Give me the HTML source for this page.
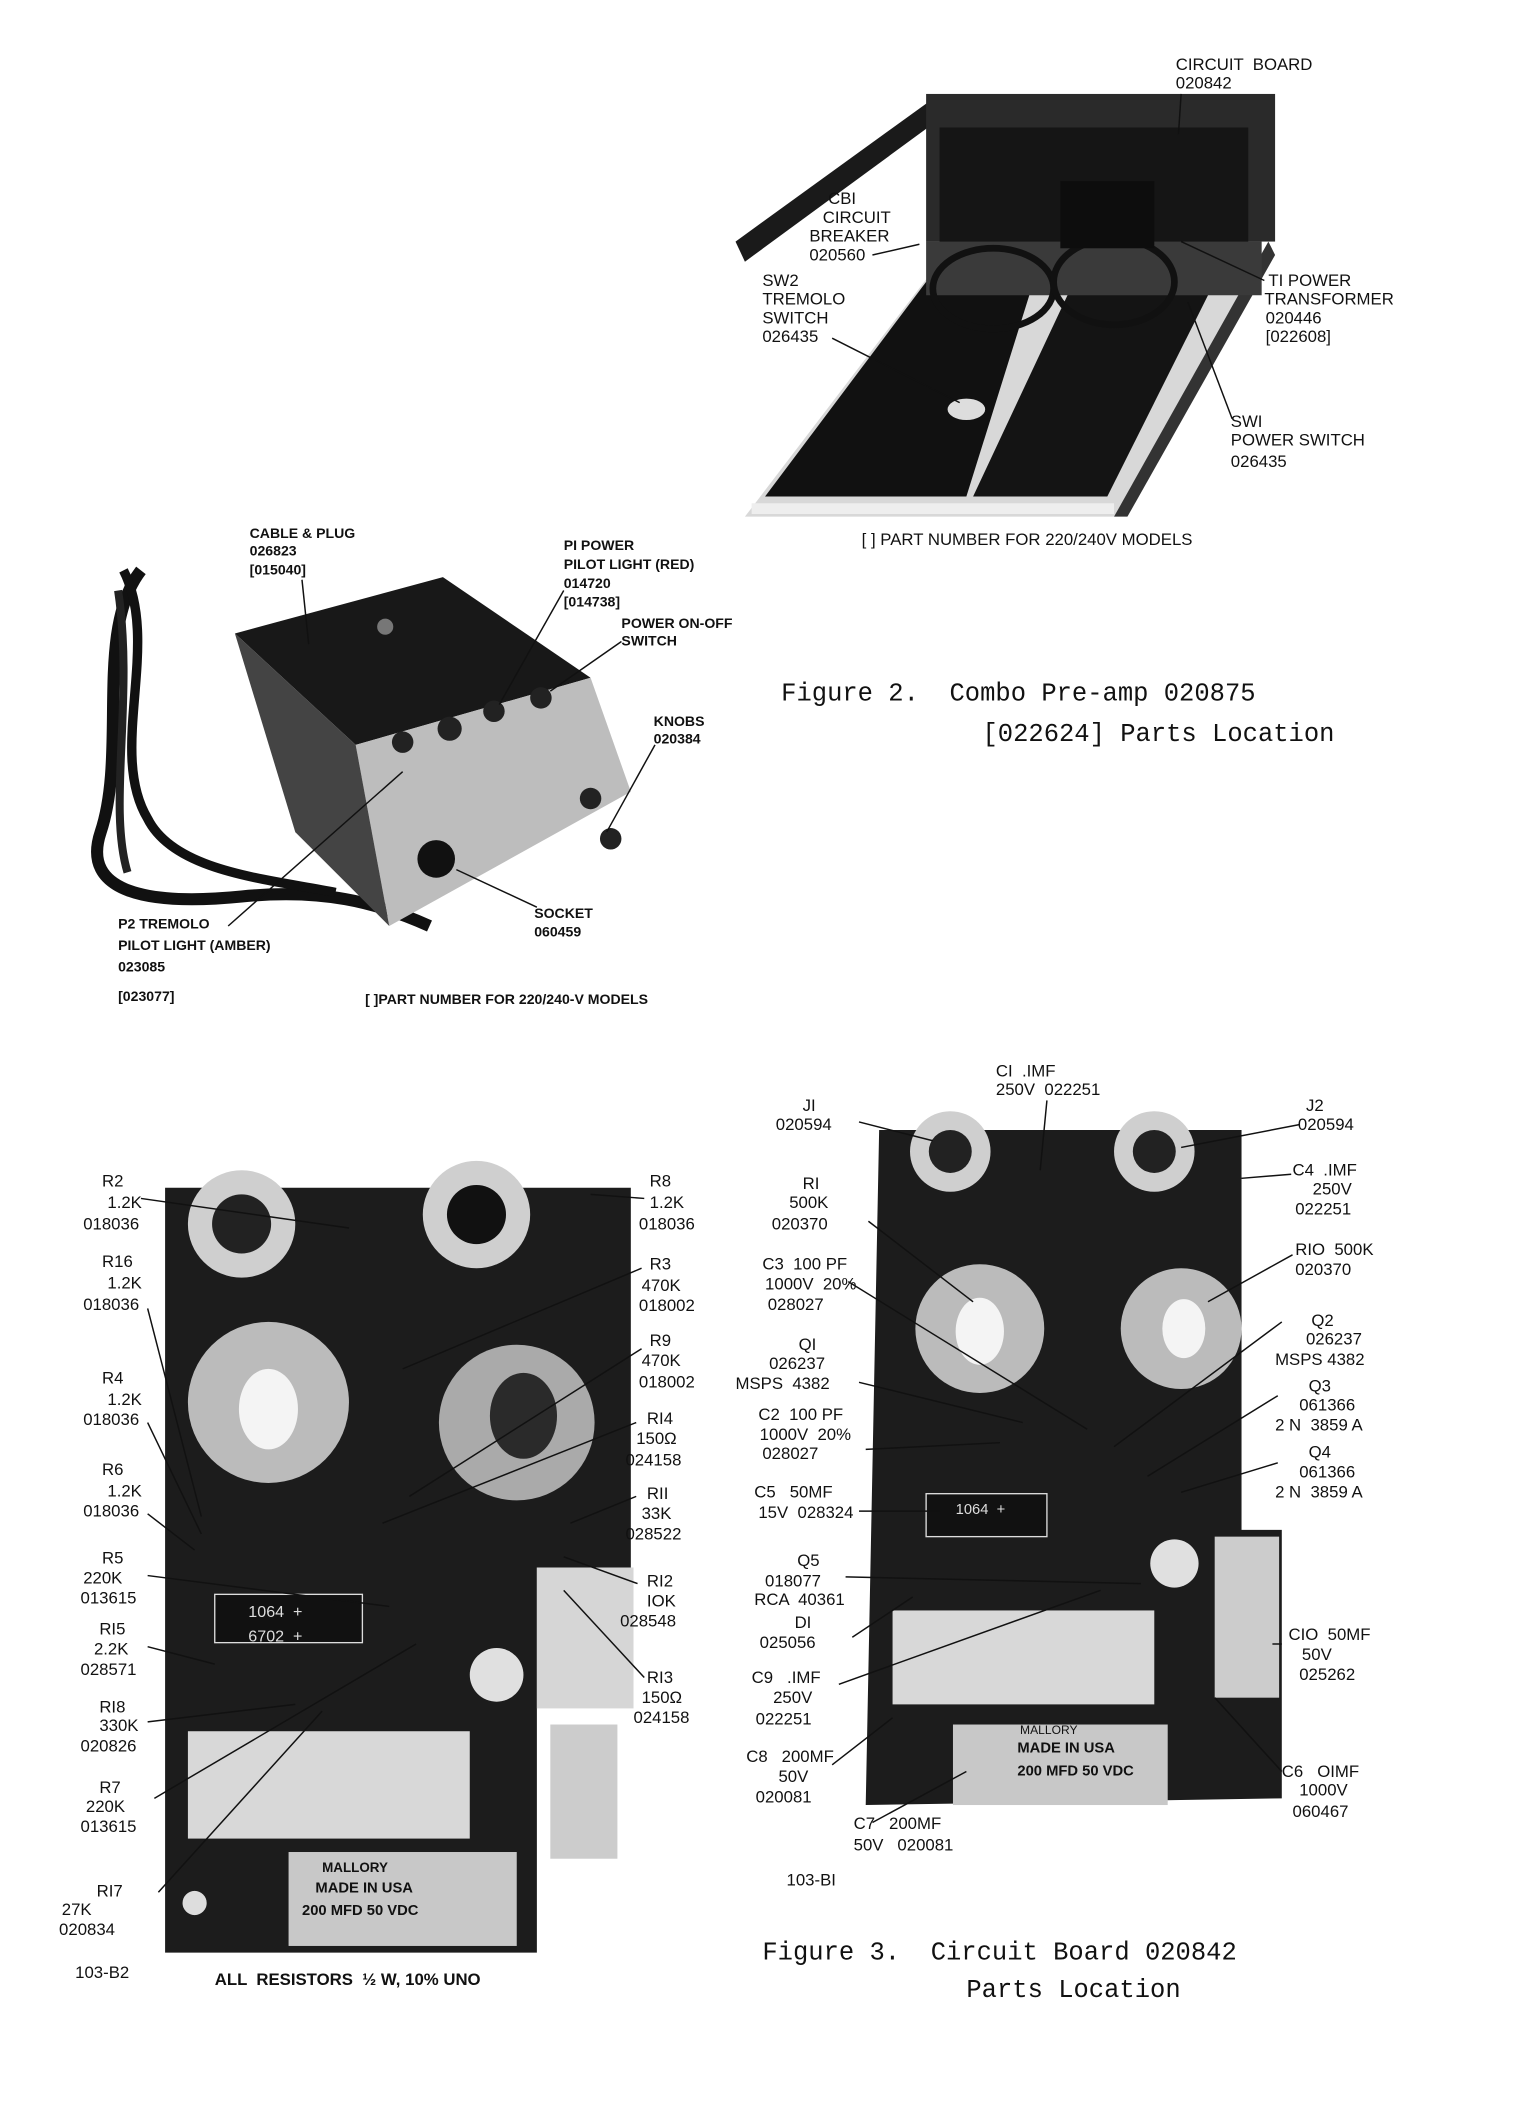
<!DOCTYPE html>
<html><head><meta charset="utf-8"><style>
html,body{margin:0;padding:0;background:#fff;}
svg{display:block}
text{font-family:"Liberation Sans",sans-serif;fill:#111;white-space:pre;}
.l{font-size:12.5px;}
.b{font-size:10.5px;font-weight:bold;}
.m{font-family:"Liberation Mono",monospace;font-size:19px;}
line.c{stroke:#111;stroke-width:1.1}
</style></head><body>
<svg width="1514" height="2107" viewBox="0 0 1128 1570" preserveAspectRatio="none">
<!-- TOP PHOTO -->
<g>
<polygon points="548,180 700,70 705,85 555,195" fill="#1a1a1a"/>
<rect x="690" y="70" width="260" height="110" fill="#2a2a2a"/>
<rect x="700" y="95" width="230" height="105" fill="#151515"/>
<polygon points="555,385 830,385 945,195 700,195" fill="#d8d8d8"/>
<polygon points="570,370 720,370 770,210 690,210" fill="#111"/>
<polygon points="725,370 825,370 905,210 800,210" fill="#141414"/>
<polygon points="830,385 840,385 950,190 945,180" fill="#333"/>
<rect x="690" y="180" width="250" height="40" fill="#3a3a3a"/>
<ellipse cx="740" cy="215" rx="45" ry="30" fill="none" stroke="#111" stroke-width="5"/>
<ellipse cx="830" cy="210" rx="45" ry="32" fill="none" stroke="#111" stroke-width="5"/>
<rect x="790" y="135" width="70" height="50" fill="#0d0d0d"/>
<ellipse cx="720" cy="305" rx="14" ry="8" fill="#ddd"/>
<rect x="560" y="375" width="270" height="8" fill="#eee"/>
</g>
<text class="l" x="876" y="52">CIRCUIT  BOARD</text>
<text class="l" x="876" y="66">020842</text>
<line class="c" x1="880" y1="70" x2="878" y2="100"/>
<text class="l" x="617" y="152">CBI</text>
<text class="l" x="613" y="166">CIRCUIT</text>
<text class="l" x="603" y="180">BREAKER</text>
<text class="l" x="603" y="194">020560</text>
<line class="c" x1="650" y1="190" x2="685" y2="182"/>
<text class="l" x="568" y="213">SW2</text>
<text class="l" x="568" y="227">TREMOLO</text>
<text class="l" x="568" y="241">SWITCH</text>
<text class="l" x="568" y="255">026435</text>
<line class="c" x1="620" y1="252" x2="715" y2="300"/>
<text class="l" x="945" y="213">TI POWER</text>
<text class="l" x="942" y="227">TRANSFORMER</text>
<text class="l" x="943" y="241">020446</text>
<text class="l" x="943" y="255">[022608]</text>
<line class="c" x1="942" y1="209" x2="880" y2="180"/>
<text class="l" x="917" y="318">SWI</text>
<text class="l" x="917" y="332">POWER SWITCH</text>
<text class="l" x="917" y="348">026435</text>
<line class="c" x1="918" y1="312" x2="885" y2="225"/>
<text class="l" x="642" y="406">[ ] PART NUMBER FOR 220/240V MODELS</text>

<!-- MIDDLE PHOTO -->
<g>
<path d="M105,425 C70,470 95,560 75,620 C60,665 110,675 180,668 C240,662 280,672 320,690" fill="none" stroke="#111" stroke-width="9"/>
<path d="M92,425 C120,480 80,560 110,610 C130,650 200,655 250,665" fill="none" stroke="#111" stroke-width="7"/>
<path d="M88,440 C100,520 80,600 95,650" fill="none" stroke="#222" stroke-width="6"/>
<polygon points="175,472 330,430 440,505 265,555" fill="#181818"/>
<polygon points="265,555 440,505 470,590 290,690" fill="#bdbdbd"/>
<polygon points="175,472 265,555 290,690 220,620" fill="#444"/>
<circle cx="300" cy="553" r="8" fill="#222"/>
<circle cx="335" cy="543" r="9" fill="#222"/>
<circle cx="368" cy="530" r="8" fill="#222"/>
<circle cx="403" cy="520" r="8" fill="#222"/>
<circle cx="440" cy="595" r="8" fill="#222"/>
<circle cx="455" cy="625" r="8" fill="#222"/>
<circle cx="325" cy="640" r="14" fill="#111"/>
<circle cx="287" cy="467" r="6" fill="#777"/>
</g>
<text class="b" x="186" y="401">CABLE &amp; PLUG</text>
<text class="b" x="186" y="414">026823</text>
<text class="b" x="186" y="428">[015040]</text>
<line class="c" x1="225" y1="432" x2="230" y2="480"/>
<text class="b" x="420" y="410">PI POWER</text>
<text class="b" x="420" y="424">PILOT LIGHT (RED)</text>
<text class="b" x="420" y="438">014720</text>
<text class="b" x="420" y="452">[014738]</text>
<line class="c" x1="420" y1="440" x2="372" y2="525"/>
<text class="b" x="463" y="468">POWER ON-OFF</text>
<text class="b" x="463" y="481">SWITCH</text>
<line class="c" x1="463" y1="478" x2="410" y2="515"/>
<text class="b" x="487" y="541">KNOBS</text>
<text class="b" x="487" y="554">020384</text>
<line class="c" x1="488" y1="555" x2="452" y2="620"/>
<text class="b" x="398" y="684">SOCKET</text>
<text class="b" x="398" y="698">060459</text>
<line class="c" x1="400" y1="676" x2="340" y2="648"/>
<text class="b" x="88" y="692">P2 TREMOLO</text>
<text class="b" x="88" y="708">PILOT LIGHT (AMBER)</text>
<text class="b" x="88" y="724">023085</text>
<text class="b" x="88" y="746">[023077]</text>
<line class="c" x1="170" y1="690" x2="300" y2="575"/>
<text class="b" x="272" y="748">[ ]PART NUMBER FOR 220/240-V MODELS</text>

<text class="m" x="582" y="522">Figure 2.  Combo Pre-amp 020875</text>
<text class="m" x="732" y="552">[022624] Parts Location</text>

<!-- BOTTOM LEFT BOARD -->
<g>
<path d="M123,885 L470,885 L470,1168 L400,1168 L400,1455 L123,1455 Z" fill="#1c1c1c"/>
<rect x="400" y="1168" width="72" height="105" fill="#d6d6d6"/>
<circle cx="180" cy="912" r="40" fill="#cfcfcf"/><circle cx="180" cy="912" r="22" fill="#222"/>
<circle cx="355" cy="905" r="40" fill="#cfcfcf"/><circle cx="355" cy="905" r="22" fill="#111"/>
<circle cx="200" cy="1045" r="60" fill="#bbb"/><ellipse cx="200" cy="1050" rx="22" ry="30" fill="#f4f4f4"/>
<circle cx="385" cy="1060" r="58" fill="#aaa"/><ellipse cx="390" cy="1055" rx="25" ry="32" fill="#2a2a2a"/>
<rect x="160" y="1188" width="110" height="36" fill="#111" stroke="#ddd"/>
<text x="185" y="1205" style="font-size:12px;fill:#ddd">1064  +</text>
<text x="185" y="1223" style="font-size:12px;fill:#ddd">6702  +</text>
<rect x="140" y="1290" width="210" height="80" fill="#d8d8d8"/>
<rect x="215" y="1380" width="170" height="70" fill="#c8c8c8"/>
<text x="240" y="1395" style="font-size:10px;font-weight:bold">MALLORY</text>
<text x="235" y="1410" style="font-size:11px;font-weight:bold">MADE IN USA</text>
<text x="225" y="1427" style="font-size:11px;font-weight:bold">200 MFD 50 VDC</text>
<circle cx="370" cy="1248" r="20" fill="#e0e0e0"/>
<rect x="410" y="1285" width="50" height="100" fill="#ccc"/>
<circle cx="145" cy="1418" r="9" fill="#ddd"/>
</g>
<g>
<text class="l" x="76" y="884">R2</text><text class="l" x="80" y="900">1.2K</text><text class="l" x="62" y="916">018036</text>
<line class="c" x1="105" y1="893" x2="260" y2="915"/>
<text class="l" x="76" y="944">R16</text><text class="l" x="80" y="960">1.2K</text><text class="l" x="62" y="976">018036</text>
<line class="c" x1="110" y1="975" x2="150" y2="1130"/>
<text class="l" x="76" y="1031">R4</text><text class="l" x="80" y="1047">1.2K</text><text class="l" x="62" y="1062">018036</text>
<line class="c" x1="110" y1="1060" x2="150" y2="1143"/>
<text class="l" x="76" y="1099">R6</text><text class="l" x="80" y="1115">1.2K</text><text class="l" x="62" y="1130">018036</text>
<line class="c" x1="110" y1="1128" x2="145" y2="1155"/>
<text class="l" x="76" y="1165">R5</text><text class="l" x="62" y="1180">220K</text><text class="l" x="60" y="1195">013615</text>
<line class="c" x1="110" y1="1174" x2="290" y2="1197"/>
<text class="l" x="74" y="1218">RI5</text><text class="l" x="70" y="1233">2.2K</text><text class="l" x="60" y="1248">028571</text>
<line class="c" x1="110" y1="1227" x2="160" y2="1240"/>
<text class="l" x="74" y="1276">RI8</text><text class="l" x="74" y="1290">330K</text><text class="l" x="60" y="1305">020826</text>
<line class="c" x1="110" y1="1283" x2="220" y2="1270"/>
<text class="l" x="74" y="1336">R7</text><text class="l" x="64" y="1350">220K</text><text class="l" x="60" y="1365">013615</text>
<line class="c" x1="115" y1="1340" x2="310" y2="1225"/>
<text class="l" x="72" y="1413">RI7</text><text class="l" x="46" y="1427">27K</text><text class="l" x="44" y="1442">020834</text>
<line class="c" x1="118" y1="1410" x2="240" y2="1275"/>
<text class="l" x="484" y="884">R8</text><text class="l" x="484" y="900">1.2K</text><text class="l" x="476" y="916">018036</text>
<line class="c" x1="480" y1="893" x2="440" y2="890"/>
<text class="l" x="484" y="946">R3</text><text class="l" x="478" y="962">470K</text><text class="l" x="476" y="977">018002</text>
<line class="c" x1="478" y1="945" x2="300" y2="1020"/>
<text class="l" x="484" y="1003">R9</text><text class="l" x="478" y="1018">470K</text><text class="l" x="476" y="1034">018002</text>
<line class="c" x1="478" y1="1005" x2="305" y2="1115"/>
<text class="l" x="482" y="1061">RI4</text><text class="l" x="474" y="1076">150Ω</text><text class="l" x="466" y="1092">024158</text>
<line class="c" x1="474" y1="1060" x2="285" y2="1135"/>
<text class="l" x="482" y="1117">RII</text><text class="l" x="478" y="1132">33K</text><text class="l" x="466" y="1147">028522</text>
<line class="c" x1="474" y1="1115" x2="425" y2="1135"/>
<text class="l" x="482" y="1182">RI2</text><text class="l" x="482" y="1197">IOK</text><text class="l" x="462" y="1212">028548</text>
<line class="c" x1="475" y1="1180" x2="420" y2="1160"/>
<text class="l" x="482" y="1254">RI3</text><text class="l" x="478" y="1269">150Ω</text><text class="l" x="472" y="1284">024158</text>
<line class="c" x1="480" y1="1250" x2="420" y2="1185"/>
</g>
<text class="l" x="56" y="1474">103-B2</text>
<text class="l" x="160" y="1479" style="font-weight:bold">ALL  RESISTORS  ½ W, 10% UNO</text>

<!-- BOTTOM RIGHT BOARD -->
<g>
<path d="M655,842 L925,842 L925,1140 L955,1140 L955,1340 L645,1345 Z" fill="#1c1c1c"/>
<circle cx="708" cy="858" r="30" fill="#cfcfcf"/><circle cx="708" cy="858" r="16" fill="#222"/>
<circle cx="860" cy="858" r="30" fill="#cfcfcf"/><circle cx="860" cy="858" r="16" fill="#222"/>
<circle cx="730" cy="990" r="48" fill="#bbb"/><ellipse cx="730" cy="992" rx="18" ry="25" fill="#f4f4f4"/>
<circle cx="880" cy="990" r="45" fill="#bbb"/><ellipse cx="882" cy="990" rx="16" ry="22" fill="#f4f4f4"/>
<rect x="690" y="1113" width="90" height="32" fill="#111" stroke="#ddd"/>
<text x="712" y="1128" style="font-size:11px;fill:#ddd">1064  +</text>
<rect x="665" y="1200" width="195" height="70" fill="#d8d8d8"/>
<rect x="710" y="1285" width="160" height="60" fill="#c8c8c8"/>
<text x="760" y="1292" style="font-size:9px">MALLORY</text>
<text x="758" y="1306" style="font-size:11px;font-weight:bold">MADE IN USA</text>
<text x="758" y="1323" style="font-size:11px;font-weight:bold">200 MFD 50 VDC</text>
<circle cx="875" cy="1165" r="18" fill="#e0e0e0"/>
<rect x="905" y="1145" width="48" height="120" fill="#ccc"/>
</g>
<text class="l" x="742" y="802">CI  .IMF</text><text class="l" x="742" y="816">250V  022251</text>
<line class="c" x1="780" y1="820" x2="775" y2="872"/>
<text class="l" x="598" y="828">JI</text><text class="l" x="578" y="842">020594</text>
<line class="c" x1="640" y1="836" x2="695" y2="850"/>
<text class="l" x="973" y="828">J2</text><text class="l" x="967" y="842">020594</text>
<line class="c" x1="968" y1="838" x2="880" y2="855"/>
<text class="l" x="963" y="876">C4  .IMF</text><text class="l" x="978" y="890">250V</text><text class="l" x="965" y="905">022251</text>
<line class="c" x1="962" y1="875" x2="925" y2="878"/>
<text class="l" x="598" y="886">RI</text><text class="l" x="588" y="900">500K</text><text class="l" x="575" y="916">020370</text>
<line class="c" x1="647" y1="910" x2="725" y2="970"/>
<text class="l" x="965" y="935">RIO  500K</text><text class="l" x="965" y="950">020370</text>
<line class="c" x1="963" y1="935" x2="900" y2="970"/>
<text class="l" x="568" y="946">C3  100 PF</text><text class="l" x="570" y="961">1000V  20%</text><text class="l" x="572" y="976">028027</text>
<line class="c" x1="632" y1="955" x2="810" y2="1065"/>
<text class="l" x="977" y="988">Q2</text><text class="l" x="973" y="1002">026237</text><text class="l" x="950" y="1017">MSPS 4382</text>
<line class="c" x1="955" y1="985" x2="830" y2="1078"/>
<text class="l" x="595" y="1006">QI</text><text class="l" x="573" y="1020">026237</text><text class="l" x="548" y="1035">MSPS  4382</text>
<line class="c" x1="640" y1="1030" x2="762" y2="1060"/>
<text class="l" x="975" y="1037">Q3</text><text class="l" x="968" y="1051">061366</text><text class="l" x="950" y="1066">2 N  3859 A</text>
<line class="c" x1="952" y1="1040" x2="855" y2="1100"/>
<text class="l" x="565" y="1058">C2  100 PF</text><text class="l" x="566" y="1073">1000V  20%</text><text class="l" x="568" y="1087">028027</text>
<line class="c" x1="645" y1="1080" x2="745" y2="1075"/>
<text class="l" x="975" y="1086">Q4</text><text class="l" x="968" y="1101">061366</text><text class="l" x="950" y="1116">2 N  3859 A</text>
<line class="c" x1="952" y1="1090" x2="880" y2="1112"/>
<text class="l" x="562" y="1116">C5   50MF</text><text class="l" x="565" y="1131">15V  028324</text>
<line class="c" x1="640" y1="1126" x2="700" y2="1126"/>
<text class="l" x="594" y="1167">Q5</text><text class="l" x="570" y="1182">018077</text><text class="l" x="562" y="1196">RCA  40361</text>
<line class="c" x1="630" y1="1175" x2="850" y2="1180"/>
<text class="l" x="592" y="1213">DI</text><text class="l" x="566" y="1228">025056</text>
<line class="c" x1="635" y1="1220" x2="680" y2="1190"/>
<text class="l" x="960" y="1222">CIO  50MF</text><text class="l" x="970" y="1237">50V</text><text class="l" x="968" y="1252">025262</text>
<line class="c" x1="955" y1="1225" x2="948" y2="1225"/>
<text class="l" x="560" y="1254">C9   .IMF</text><text class="l" x="576" y="1269">250V</text><text class="l" x="563" y="1285">022251</text>
<line class="c" x1="625" y1="1255" x2="820" y2="1185"/>
<text class="l" x="955" y="1324">C6   OIMF</text><text class="l" x="968" y="1338">1000V</text><text class="l" x="963" y="1354">060467</text>
<line class="c" x1="955" y1="1320" x2="905" y2="1265"/>
<text class="l" x="556" y="1313">C8   200MF</text><text class="l" x="580" y="1328">50V</text><text class="l" x="563" y="1343">020081</text>
<line class="c" x1="620" y1="1315" x2="665" y2="1280"/>
<text class="l" x="636" y="1363">C7   200MF</text><text class="l" x="636" y="1379">50V   020081</text>
<line class="c" x1="650" y1="1358" x2="720" y2="1320"/>
<text class="l" x="586" y="1405">103-BI</text>
<text class="m" x="568" y="1460">Figure 3.  Circuit Board 020842</text>
<text class="m" x="720" y="1488">Parts Location</text>
</svg>
</body></html>
